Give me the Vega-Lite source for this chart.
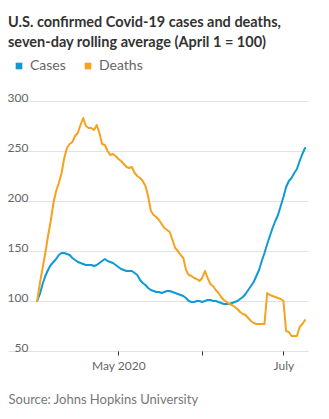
{
  "$schema": "https://vega.github.io/schema/vega-lite/v6.json",
  "width": 300,
  "height": 250,
  "autosize": {"type": "none"},
  "padding": {"left": 8, "top": 101, "right": 21, "bottom": 68},
  "background": "white",
  "title": {
    "text": ["U.S. confirmed Covid-19 cases and deaths,", "seven-day rolling average (April 1 = 100)"],
    "anchor": "start",
    "frame": "group",
    "font": "Lato",
    "fontSize": 14.5,
    "fontWeight": "bold",
    "color": "#333333",
    "lineHeight": 20,
    "offset": 9
  },
  "data": {
    "values": [
      {"date": "2020-04-01", "Cases": 100, "Deaths": 100},
      {"date": "2020-04-02", "Cases": 107, "Deaths": 118},
      {"date": "2020-04-03", "Cases": 117, "Deaths": 133},
      {"date": "2020-04-04", "Cases": 125, "Deaths": 148},
      {"date": "2020-04-05", "Cases": 131, "Deaths": 165},
      {"date": "2020-04-06", "Cases": 136, "Deaths": 180},
      {"date": "2020-04-07", "Cases": 139, "Deaths": 198},
      {"date": "2020-04-08", "Cases": 142, "Deaths": 210},
      {"date": "2020-04-09", "Cases": 146, "Deaths": 218},
      {"date": "2020-04-10", "Cases": 148, "Deaths": 228},
      {"date": "2020-04-11", "Cases": 148, "Deaths": 243},
      {"date": "2020-04-12", "Cases": 147, "Deaths": 253},
      {"date": "2020-04-13", "Cases": 146, "Deaths": 257},
      {"date": "2020-04-14", "Cases": 143, "Deaths": 259},
      {"date": "2020-04-15", "Cases": 141, "Deaths": 265},
      {"date": "2020-04-16", "Cases": 139, "Deaths": 268},
      {"date": "2020-04-17", "Cases": 138, "Deaths": 276},
      {"date": "2020-04-18", "Cases": 137, "Deaths": 283},
      {"date": "2020-04-19", "Cases": 136, "Deaths": 275},
      {"date": "2020-04-20", "Cases": 136, "Deaths": 273},
      {"date": "2020-04-21", "Cases": 136, "Deaths": 273},
      {"date": "2020-04-22", "Cases": 135, "Deaths": 271},
      {"date": "2020-04-23", "Cases": 136, "Deaths": 276},
      {"date": "2020-04-24", "Cases": 138, "Deaths": 268},
      {"date": "2020-04-25", "Cases": 140, "Deaths": 257},
      {"date": "2020-04-26", "Cases": 142, "Deaths": 256},
      {"date": "2020-04-27", "Cases": 140, "Deaths": 250},
      {"date": "2020-04-28", "Cases": 139, "Deaths": 246},
      {"date": "2020-04-29", "Cases": 138, "Deaths": 247},
      {"date": "2020-04-30", "Cases": 136, "Deaths": 245},
      {"date": "2020-05-01", "Cases": 134, "Deaths": 242},
      {"date": "2020-05-02", "Cases": 132, "Deaths": 240},
      {"date": "2020-05-03", "Cases": 131, "Deaths": 237},
      {"date": "2020-05-04", "Cases": 130, "Deaths": 234},
      {"date": "2020-05-05", "Cases": 130, "Deaths": 233},
      {"date": "2020-05-06", "Cases": 130, "Deaths": 234},
      {"date": "2020-05-07", "Cases": 128, "Deaths": 228},
      {"date": "2020-05-08", "Cases": 126, "Deaths": 225},
      {"date": "2020-05-09", "Cases": 121, "Deaths": 223},
      {"date": "2020-05-10", "Cases": 118, "Deaths": 220},
      {"date": "2020-05-11", "Cases": 116, "Deaths": 215},
      {"date": "2020-05-12", "Cases": 113, "Deaths": 205},
      {"date": "2020-05-13", "Cases": 111, "Deaths": 190},
      {"date": "2020-05-14", "Cases": 110, "Deaths": 186},
      {"date": "2020-05-15", "Cases": 109, "Deaths": 184},
      {"date": "2020-05-16", "Cases": 109, "Deaths": 181},
      {"date": "2020-05-17", "Cases": 108, "Deaths": 177},
      {"date": "2020-05-18", "Cases": 109, "Deaths": 173},
      {"date": "2020-05-19", "Cases": 110, "Deaths": 171},
      {"date": "2020-05-20", "Cases": 110, "Deaths": 169},
      {"date": "2020-05-21", "Cases": 109, "Deaths": 161},
      {"date": "2020-05-22", "Cases": 108, "Deaths": 153},
      {"date": "2020-05-23", "Cases": 107, "Deaths": 150},
      {"date": "2020-05-24", "Cases": 106, "Deaths": 146},
      {"date": "2020-05-25", "Cases": 105, "Deaths": 143},
      {"date": "2020-05-26", "Cases": 103, "Deaths": 131},
      {"date": "2020-05-27", "Cases": 100, "Deaths": 126},
      {"date": "2020-05-28", "Cases": 99, "Deaths": 125},
      {"date": "2020-05-29", "Cases": 99, "Deaths": 123},
      {"date": "2020-05-30", "Cases": 100, "Deaths": 122},
      {"date": "2020-05-31", "Cases": 100, "Deaths": 120},
      {"date": "2020-06-01", "Cases": 99, "Deaths": 123},
      {"date": "2020-06-02", "Cases": 100, "Deaths": 130},
      {"date": "2020-06-03", "Cases": 101, "Deaths": 123},
      {"date": "2020-06-04", "Cases": 101, "Deaths": 117},
      {"date": "2020-06-05", "Cases": 100, "Deaths": 115},
      {"date": "2020-06-06", "Cases": 100, "Deaths": 111},
      {"date": "2020-06-07", "Cases": 99, "Deaths": 108},
      {"date": "2020-06-08", "Cases": 98, "Deaths": 104},
      {"date": "2020-06-09", "Cases": 97, "Deaths": 101},
      {"date": "2020-06-10", "Cases": 97, "Deaths": 99},
      {"date": "2020-06-11", "Cases": 97, "Deaths": 97},
      {"date": "2020-06-12", "Cases": 98, "Deaths": 96},
      {"date": "2020-06-13", "Cases": 99, "Deaths": 94},
      {"date": "2020-06-14", "Cases": 100, "Deaths": 92},
      {"date": "2020-06-15", "Cases": 102, "Deaths": 89},
      {"date": "2020-06-16", "Cases": 104, "Deaths": 87},
      {"date": "2020-06-17", "Cases": 107, "Deaths": 86},
      {"date": "2020-06-18", "Cases": 111, "Deaths": 83},
      {"date": "2020-06-19", "Cases": 115, "Deaths": 80},
      {"date": "2020-06-20", "Cases": 119, "Deaths": 78},
      {"date": "2020-06-21", "Cases": 125, "Deaths": 77},
      {"date": "2020-06-22", "Cases": 131, "Deaths": 77},
      {"date": "2020-06-23", "Cases": 140, "Deaths": 77},
      {"date": "2020-06-24", "Cases": 148, "Deaths": 77},
      {"date": "2020-06-25", "Cases": 157, "Deaths": 108},
      {"date": "2020-06-26", "Cases": 165, "Deaths": 106},
      {"date": "2020-06-27", "Cases": 173, "Deaths": 105},
      {"date": "2020-06-28", "Cases": 180, "Deaths": 104},
      {"date": "2020-06-29", "Cases": 186, "Deaths": 103},
      {"date": "2020-06-30", "Cases": 195, "Deaths": 102},
      {"date": "2020-07-01", "Cases": 204, "Deaths": 100},
      {"date": "2020-07-02", "Cases": 214, "Deaths": 70},
      {"date": "2020-07-03", "Cases": 220, "Deaths": 69},
      {"date": "2020-07-04", "Cases": 223, "Deaths": 65},
      {"date": "2020-07-05", "Cases": 228, "Deaths": 65},
      {"date": "2020-07-06", "Cases": 232, "Deaths": 65},
      {"date": "2020-07-07", "Cases": 240, "Deaths": 74},
      {"date": "2020-07-08", "Cases": 247, "Deaths": 77},
      {"date": "2020-07-09", "Cases": 253, "Deaths": 81}
    ]
  },
  "transform": [{"fold": ["Cases", "Deaths"], "as": ["series", "value"]}],
  "mark": {"type": "line", "strokeWidth": 2, "strokeJoin": "round", "strokeCap": "round"},
  "encoding": {
    "x": {
      "field": "date",
      "type": "temporal",
      "scale": {
        "type": "utc",
        "domain": [
          {"year": 2020, "month": 3, "date": 21, "hours": 5, "utc": true},
          {"year": 2020, "month": 7, "date": 10, "hours": 2, "utc": true}
        ]
      },
      "axis": {
        "values": [
          {"year": 2020, "month": 5, "date": 1, "utc": true},
          {"year": 2020, "month": 6, "date": 1, "utc": true},
          {"year": 2020, "month": 7, "date": 1, "utc": true}
        ],
        "labelExpr": "utcmonth(datum.value) == 4 ? 'May 2020' : (utcmonth(datum.value) == 6 ? 'July' : '')",
        "grid": false,
        "domain": false,
        "ticks": true,
        "tickSize": 4,
        "tickColor": "#333333",
        "labelPadding": 5,
        "labelFont": "Lato",
        "labelFontSize": 12,
        "labelColor": "#666666",
        "labelAlign": "center",
        "labelBaseline": "top",
        "title": "Source: Johns Hopkins University",
        "titleFont": "Lato",
        "titleFontSize": 13,
        "titleFontWeight": "normal",
        "titleColor": "#777777",
        "titleAnchor": "start",
        "titleAlign": "left",
        "titleBaseline": "alphabetic",
        "titleX": 0,
        "titleY": 52
      }
    },
    "y": {
      "field": "value",
      "type": "quantitative",
      "scale": {"domain": [50, 300], "nice": false, "zero": false},
      "axis": {
        "values": [50, 100, 150, 200, 250, 300],
        "title": null,
        "domain": false,
        "ticks": false,
        "tickSize": 0,
        "gridColor": "#e2e2e2",
        "gridWidth": 1,
        "labelAlign": "right",
        "labelBaseline": "alphabetic",
        "labelPadding": -20,
        "labelDy": -1,
        "labelFont": "Lato",
        "labelFontSize": 12,
        "labelColor": "#666666"
      }
    },
    "color": {
      "field": "series",
      "type": "nominal",
      "scale": {"domain": ["Cases", "Deaths"], "range": ["#0e9ad7", "#f8a11e"]},
      "legend": {
        "title": null,
        "orient": "none",
        "legendX": 4,
        "legendY": -42,
        "direction": "horizontal",
        "symbolType": "square",
        "symbolSize": 44,
        "labelFont": "Lato",
        "labelFontSize": 14,
        "labelColor": "#666666",
        "labelOffset": 4,
        "columnPadding": 15,
        "encode": {
          "symbols": {
            "update": {
              "fill": {"scale": "color", "field": "value"},
              "fillOpacity": {"value": 1},
              "strokeWidth": {"value": 0}
            }
          }
        }
      }
    }
  },
  "config": {"view": {"stroke": null}}
}
